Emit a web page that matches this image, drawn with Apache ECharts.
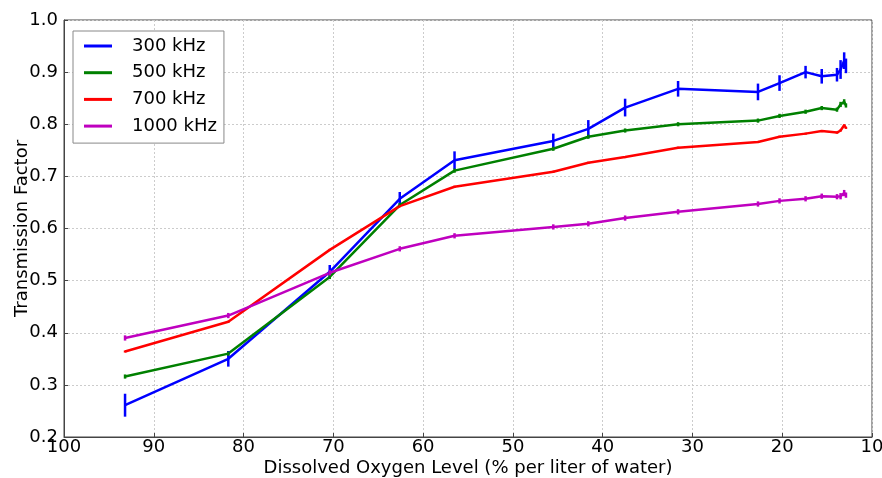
<!DOCTYPE html>
<html>
<head>
<meta charset="utf-8">
<script src="https://cdn.jsdelivr.net/npm/echarts@6/dist/echarts.min.js"></script>
<style>html,body{margin:0;padding:0;background:#fff;}#c{width:882px;height:478px;}</style>
</head>
<body>
<div id="c"></div>
<script>
// Dissolved oxygen levels (x values)
var oxygen = [93.2, 81.7, 70.4, 62.6, 56.5, 45.5, 41.6, 37.5, 31.6, 22.7, 20.3, 17.4, 15.6, 13.9, 13.5, 13.1, 12.9];
var seriesNames = ['300 kHz', '500 kHz', '700 kHz', '1000 kHz'];
var tf300 = [0.261, 0.350, 0.517, 0.657, 0.731, 0.768, 0.791, 0.832, 0.868, 0.862, 0.879, 0.900, 0.892, 0.895, 0.905, 0.922, 0.912];
var err300 = [0.022, 0.015, 0.013, 0.013, 0.017, 0.014, 0.017, 0.017, 0.015, 0.016, 0.015, 0.012, 0.014, 0.013, 0.018, 0.016, 0.014];
var tf500 = [0.316, 0.360, 0.507, 0.645, 0.711, 0.753, 0.776, 0.788, 0.800, 0.807, 0.816, 0.824, 0.831, 0.828, 0.838, 0.843, 0.836];
var err500 = [0.004, 0.004, 0.004, 0.004, 0.004, 0.004, 0.004, 0.004, 0.004, 0.004, 0.004, 0.004, 0.004, 0.004, 0.005, 0.005, 0.004];
var tf700 = [0.364, 0.421, 0.559, 0.643, 0.680, 0.709, 0.726, 0.737, 0.755, 0.766, 0.776, 0.782, 0.787, 0.784, 0.788, 0.798, 0.793];
var err700 = [0.002, 0.002, 0.002, 0.002, 0.002, 0.002, 0.002, 0.002, 0.002, 0.002, 0.002, 0.002, 0.002, 0.002, 0.002, 0.002, 0.002];
var tf1000 = [0.390, 0.433, 0.515, 0.561, 0.586, 0.603, 0.609, 0.620, 0.632, 0.647, 0.653, 0.657, 0.662, 0.661, 0.662, 0.668, 0.664];
var err1000 = [0.005, 0.005, 0.005, 0.005, 0.005, 0.005, 0.005, 0.005, 0.005, 0.005, 0.005, 0.005, 0.005, 0.005, 0.006, 0.006, 0.005];
var colors = ['#0000ff', '#008000', '#ff0000', '#bf00bf'];
var xTicks = [100, 90, 80, 70, 60, 50, 40, 30, 20, 10];
var yTicks = [0.2, 0.3, 0.4, 0.5, 0.6, 0.7, 0.8, 0.9, 1.0];

var values = [tf300, tf500, tf700, tf1000];
var errs = [err300, err500, err700, err1000];
var font = 'DejaVu Sans';

var series = [];
values.forEach(function (vals, si) {
  series.push({
    name: seriesNames[si],
    type: 'line',
    data: oxygen.map(function (x, i) { return [x, vals[i]]; }),
    showSymbol: false,
    symbol: 'none',
    lineStyle: { color: colors[si], width: 2.5 },
    itemStyle: { color: colors[si] },
    z: 3,
    animation: false
  });
  series.push({
    name: seriesNames[si],
    type: 'custom',
    data: oxygen.map(function (x, i) { return [x, vals[i] - errs[si][i], vals[i] + errs[si][i]]; }),
    encode: { x: 0, y: [1, 2] },
    renderItem: function (params, api) {
      var a = api.coord([api.value(0), api.value(1)]);
      var b = api.coord([api.value(0), api.value(2)]);
      return {
        type: 'line',
        shape: { x1: a[0], y1: a[1], x2: b[0], y2: b[1] },
        style: { stroke: colors[si], lineWidth: 2.5 }
      };
    },
    z: 4,
    animation: false
  });
});

var chart = echarts.init(document.getElementById('c'));
chart.setOption({
  animation: false,
  backgroundColor: '#fff',
  grid: { left: 64, right: 10, top: 20, bottom: 41, outerBoundsMode: 'none', containLabel: false,
    show: true, borderColor: '#444', borderWidth: 1 },
  legend: {
    data: seriesNames.map(function (n, i) { return { name: n, icon: 'rect', itemStyle: { color: colors[i] } }; }),
    orient: 'vertical',
    left: 73, top: 31,
    itemWidth: 28, itemHeight: 3,
    itemGap: 8.7,
    padding: [6, 7, 8, 11],
    borderColor: '#888', borderWidth: 1, borderRadius: 0,
    backgroundColor: '#fff',
    textStyle: { fontFamily: font, fontSize: 18, color: '#000', padding: [0, 0, 0, 15] }
  },
  xAxis: {
    type: 'value', inverse: true, min: 10, max: 100, interval: 10,
    name: 'Dissolved Oxygen Level (% per liter of water)',
    nameLocation: 'middle', nameGap: 22, nameMoveOverlap: false,
    nameTextStyle: { fontFamily: font, fontSize: 18, color: '#000' },
    axisLine: { show: true, lineStyle: { color: '#444' } },
    axisTick: { show: true, inside: true, length: 4, lineStyle: { color: '#444' } },
    axisLabel: { fontFamily: font, fontSize: 18, color: '#000', margin: 1 },
    splitLine: { show: true, lineStyle: { color: '#ccc', type: [2, 2] } }
  },
  yAxis: {
    type: 'value', min: 0.2, max: 1.0, interval: 0.1,
    name: 'Transmission Factor',
    nameLocation: 'middle', nameGap: 33, nameRotate: 90, nameMoveOverlap: false,
    nameTextStyle: { fontFamily: font, fontSize: 18, color: '#000' },
    axisLine: { show: true, lineStyle: { color: '#444' } },
    axisTick: { show: true, inside: true, length: 4, lineStyle: { color: '#444' } },
    axisLabel: { fontFamily: font, fontSize: 18, color: '#000', margin: 6,
      formatter: function (v) { return v.toFixed(1); } },
    splitLine: { show: true, lineStyle: { color: '#ccc', type: [2, 2] } }
  },
  series: series
});
</script>
</body>
</html>
